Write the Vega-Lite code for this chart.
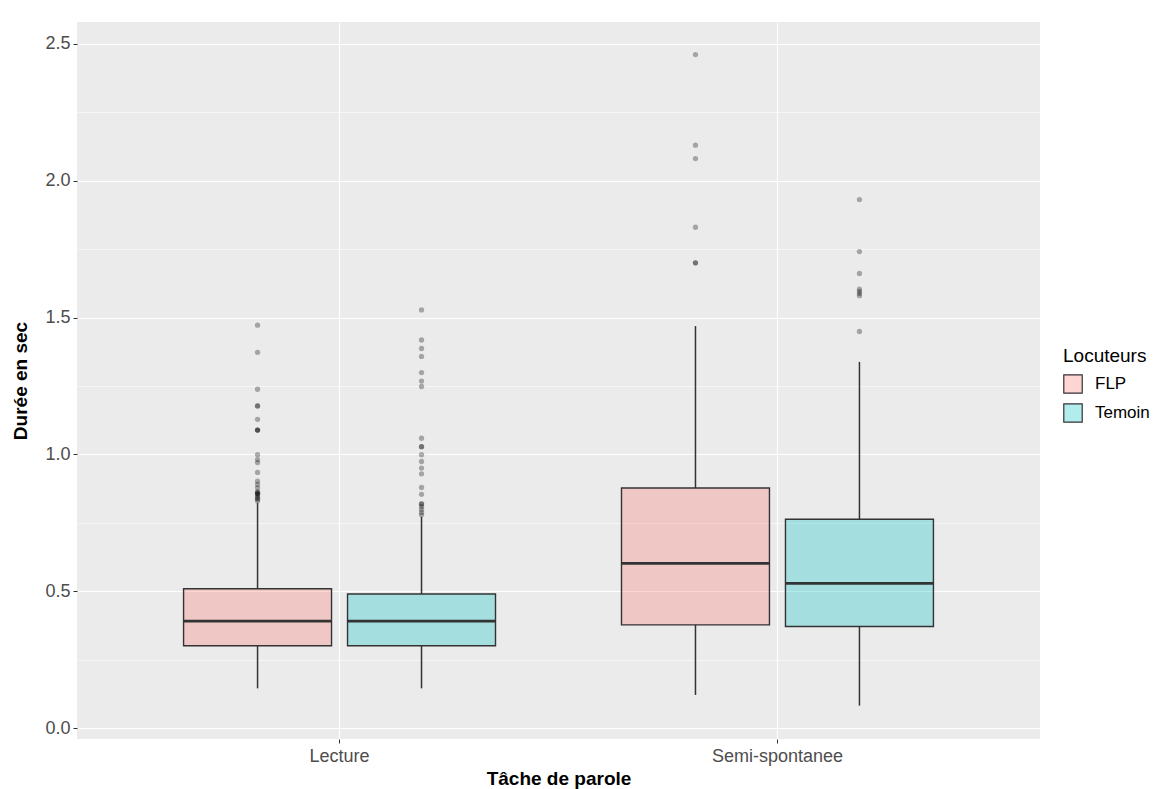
{
  "$schema": "https://vega.github.io/schema/vega-lite/v6.json",
  "width": 963,
  "height": 717,
  "autosize": {"type": "none"},
  "padding": {"left": 77, "top": 22, "right": 120, "bottom": 50},
  "background": "white",
  "config": {
    "view": {"fill": "#EBEBEB", "stroke": null},
    "font": "Liberation Sans",
    "axis": {
      "domain": false,
      "gridColor": "white",
      "tickColor": "#333333",
      "tickSize": 4,
      "labelColor": "#4D4D4D",
      "labelFontSize": 18,
      "labelFont": "Liberation Sans",
      "titleFont": "Liberation Sans",
      "titleFontSize": 19,
      "titleFontWeight": "bold",
      "titleColor": "black"
    }
  },
  "datasets": {
    "boxes": [
      {"Tache": "Lecture", "Locuteurs": "FLP", "lower": 0.145, "q1": 0.301, "median": 0.391, "q3": 0.509, "upper": 0.822},
      {"Tache": "Lecture", "Locuteurs": "Temoin", "lower": 0.145, "q1": 0.301, "median": 0.391, "q3": 0.490, "upper": 0.772},
      {"Tache": "Semi-spontanee", "Locuteurs": "FLP", "lower": 0.121, "q1": 0.377, "median": 0.602, "q3": 0.877, "upper": 1.469},
      {"Tache": "Semi-spontanee", "Locuteurs": "Temoin", "lower": 0.082, "q1": 0.371, "median": 0.529, "q3": 0.763, "upper": 1.338}
    ],
    "outliers": [
      {"Tache": "Lecture", "Locuteurs": "FLP", "duree": 1.472},
      {"Tache": "Lecture", "Locuteurs": "FLP", "duree": 1.373},
      {"Tache": "Lecture", "Locuteurs": "FLP", "duree": 1.238},
      {"Tache": "Lecture", "Locuteurs": "FLP", "duree": 1.177},
      {"Tache": "Lecture", "Locuteurs": "FLP", "duree": 1.177},
      {"Tache": "Lecture", "Locuteurs": "FLP", "duree": 1.128},
      {"Tache": "Lecture", "Locuteurs": "FLP", "duree": 1.089},
      {"Tache": "Lecture", "Locuteurs": "FLP", "duree": 1.089},
      {"Tache": "Lecture", "Locuteurs": "FLP", "duree": 1.089},
      {"Tache": "Lecture", "Locuteurs": "FLP", "duree": 0.999},
      {"Tache": "Lecture", "Locuteurs": "FLP", "duree": 0.981},
      {"Tache": "Lecture", "Locuteurs": "FLP", "duree": 0.970},
      {"Tache": "Lecture", "Locuteurs": "FLP", "duree": 0.934},
      {"Tache": "Lecture", "Locuteurs": "FLP", "duree": 0.902},
      {"Tache": "Lecture", "Locuteurs": "FLP", "duree": 0.890},
      {"Tache": "Lecture", "Locuteurs": "FLP", "duree": 0.878},
      {"Tache": "Lecture", "Locuteurs": "FLP", "duree": 0.864},
      {"Tache": "Lecture", "Locuteurs": "FLP", "duree": 0.860},
      {"Tache": "Lecture", "Locuteurs": "FLP", "duree": 0.857},
      {"Tache": "Lecture", "Locuteurs": "FLP", "duree": 0.857},
      {"Tache": "Lecture", "Locuteurs": "FLP", "duree": 0.852},
      {"Tache": "Lecture", "Locuteurs": "FLP", "duree": 0.845},
      {"Tache": "Lecture", "Locuteurs": "FLP", "duree": 0.840},
      {"Tache": "Lecture", "Locuteurs": "FLP", "duree": 0.836},
      {"Tache": "Lecture", "Locuteurs": "FLP", "duree": 0.830},
      {"Tache": "Lecture", "Locuteurs": "Temoin", "duree": 1.528},
      {"Tache": "Lecture", "Locuteurs": "Temoin", "duree": 1.418},
      {"Tache": "Lecture", "Locuteurs": "Temoin", "duree": 1.387},
      {"Tache": "Lecture", "Locuteurs": "Temoin", "duree": 1.358},
      {"Tache": "Lecture", "Locuteurs": "Temoin", "duree": 1.299},
      {"Tache": "Lecture", "Locuteurs": "Temoin", "duree": 1.268},
      {"Tache": "Lecture", "Locuteurs": "Temoin", "duree": 1.248},
      {"Tache": "Lecture", "Locuteurs": "Temoin", "duree": 1.059},
      {"Tache": "Lecture", "Locuteurs": "Temoin", "duree": 1.028},
      {"Tache": "Lecture", "Locuteurs": "Temoin", "duree": 1.028},
      {"Tache": "Lecture", "Locuteurs": "Temoin", "duree": 0.999},
      {"Tache": "Lecture", "Locuteurs": "Temoin", "duree": 0.974},
      {"Tache": "Lecture", "Locuteurs": "Temoin", "duree": 0.950},
      {"Tache": "Lecture", "Locuteurs": "Temoin", "duree": 0.929},
      {"Tache": "Lecture", "Locuteurs": "Temoin", "duree": 0.879},
      {"Tache": "Lecture", "Locuteurs": "Temoin", "duree": 0.854},
      {"Tache": "Lecture", "Locuteurs": "Temoin", "duree": 0.819},
      {"Tache": "Lecture", "Locuteurs": "Temoin", "duree": 0.819},
      {"Tache": "Lecture", "Locuteurs": "Temoin", "duree": 0.809},
      {"Tache": "Lecture", "Locuteurs": "Temoin", "duree": 0.799},
      {"Tache": "Lecture", "Locuteurs": "Temoin", "duree": 0.788},
      {"Tache": "Lecture", "Locuteurs": "Temoin", "duree": 0.779},
      {"Tache": "Semi-spontanee", "Locuteurs": "FLP", "duree": 2.461},
      {"Tache": "Semi-spontanee", "Locuteurs": "FLP", "duree": 2.130},
      {"Tache": "Semi-spontanee", "Locuteurs": "FLP", "duree": 2.081},
      {"Tache": "Semi-spontanee", "Locuteurs": "FLP", "duree": 1.830},
      {"Tache": "Semi-spontanee", "Locuteurs": "FLP", "duree": 1.700},
      {"Tache": "Semi-spontanee", "Locuteurs": "FLP", "duree": 1.700},
      {"Tache": "Semi-spontanee", "Locuteurs": "Temoin", "duree": 1.931},
      {"Tache": "Semi-spontanee", "Locuteurs": "Temoin", "duree": 1.741},
      {"Tache": "Semi-spontanee", "Locuteurs": "Temoin", "duree": 1.661},
      {"Tache": "Semi-spontanee", "Locuteurs": "Temoin", "duree": 1.604},
      {"Tache": "Semi-spontanee", "Locuteurs": "Temoin", "duree": 1.596},
      {"Tache": "Semi-spontanee", "Locuteurs": "Temoin", "duree": 1.588},
      {"Tache": "Semi-spontanee", "Locuteurs": "Temoin", "duree": 1.580},
      {"Tache": "Semi-spontanee", "Locuteurs": "Temoin", "duree": 1.449}
    ]
  },
  "layer": [
    {
      "data": {"name": "boxes"},
      "mark": {"type": "rule", "color": "#333333", "strokeWidth": 1.5},
      "encoding": {
        "x": {
          "field": "Tache", "type": "nominal", "sort": ["Lecture", "Semi-spontanee"],
          "scale": {"paddingInner": 0.251, "paddingOuter": 0.225},
          "axis": {"title": "Tâche de parole", "labelAngle": 0, "bandPosition": 0.5, "grid": true, "gridWidth": 1.1, "labelPadding": 4, "titlePadding": 4}
        },
        "xOffset": {"field": "Locuteurs", "type": "nominal", "scale": {"paddingInner": 0.0976, "paddingOuter": 0.049}},
        "y": {
          "field": "lower", "type": "quantitative",
          "scale": {"domain": [-0.04, 2.58], "nice": false, "zero": false},
          "axis": {"title": "Durée en sec", "values": [0, 0.5, 1, 1.5, 2, 2.5], "format": ".1f", "grid": true, "gridWidth": 1.1, "labelPadding": 3, "titlePadding": 14}
        },
        "y2": {"field": "q1"}
      }
    },
    {
      "data": {"name": "boxes"},
      "mark": {"type": "rule", "color": "#333333", "strokeWidth": 1.5},
      "encoding": {
        "x": {"field": "Tache", "type": "nominal", "sort": ["Lecture", "Semi-spontanee"]},
        "xOffset": {"field": "Locuteurs", "type": "nominal"},
        "y": {
          "field": "q3", "type": "quantitative",
          "axis": {"orient": "right", "title": null, "labels": false, "ticks": false, "domain": false, "grid": true, "gridWidth": 0.55, "values": [0.25, 0.75, 1.25, 1.75, 2.25]}
        },
        "y2": {"field": "upper"}
      }
    },
    {
      "data": {"name": "boxes"},
      "mark": {"type": "bar", "fillOpacity": 0.3, "stroke": "#333333", "strokeWidth": 1.4},
      "encoding": {
        "x": {"field": "Tache", "type": "nominal", "sort": ["Lecture", "Semi-spontanee"]},
        "xOffset": {"field": "Locuteurs", "type": "nominal"},
        "y": {"field": "q1", "type": "quantitative", "axis": null},
        "y2": {"field": "q3"},
        "fill": {
          "field": "Locuteurs", "type": "nominal",
          "scale": {"domain": ["FLP", "Temoin"], "range": ["#F8766D", "#00BFC4"]},
          "legend": {
            "orient": "none", "legendX": 986, "legendY": 325, "title": "Locuteurs",
            "titleFontSize": 19, "titleFontWeight": "normal", "titleColor": "black", "titleFont": "Liberation Sans",
            "labelFontSize": 17, "labelColor": "black", "labelFont": "Liberation Sans",
            "symbolType": "square", "symbolSize": 340, "symbolStrokeColor": "#333333", "symbolStrokeWidth": 1.2,
            "symbolOpacity": 1, "labelOffset": 12, "rowPadding": 5, "titlePadding": 8, "padding": 0,
            "encode": {"symbols": {"update": {"fillOpacity": {"value": 0.3}, "stroke": {"value": "#333333"}}}}
          }
        }
      }
    },
    {
      "data": {"name": "boxes"},
      "mark": {"type": "tick", "color": "#333333", "thickness": 2.7, "size": 148, "opacity": 1},
      "encoding": {
        "x": {"field": "Tache", "type": "nominal", "sort": ["Lecture", "Semi-spontanee"]},
        "xOffset": {"field": "Locuteurs", "type": "nominal"},
        "y": {"field": "median", "type": "quantitative", "axis": null}
      }
    },
    {
      "data": {"name": "outliers"},
      "mark": {"type": "point", "filled": true, "color": "black", "opacity": 0.3, "size": 28, "strokeWidth": 0},
      "encoding": {
        "x": {"field": "Tache", "type": "nominal", "sort": ["Lecture", "Semi-spontanee"]},
        "xOffset": {"field": "Locuteurs", "type": "nominal"},
        "y": {"field": "duree", "type": "quantitative", "axis": null}
      }
    }
  ],
  "resolve": {"axis": {"y": "independent"}}
}
